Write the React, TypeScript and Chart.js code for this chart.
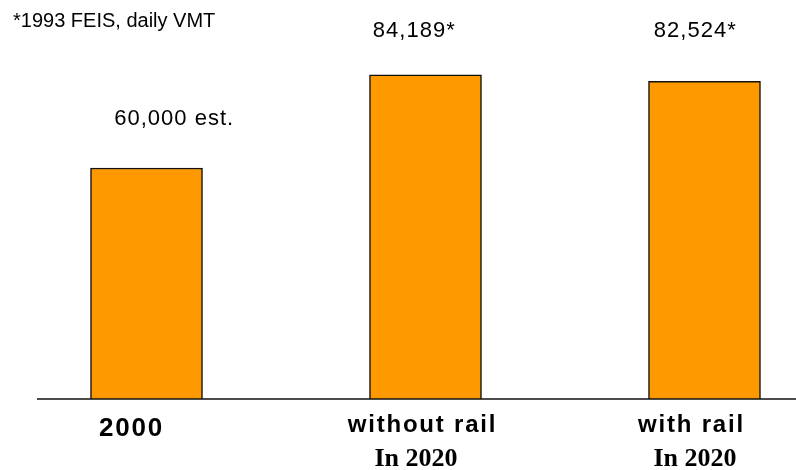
import React, { useEffect, useRef } from "react";
import { Chart, registerables } from "chart.js";

Chart.register(...registerables);

const categories = ["2000", "without rail", "with rail"];
const subLabels = ["", "In 2020", "In 2020"];
const values = [60000, 84189, 82524];
const valueLabels = ["60,000 est.", "84,189*", "82,524*"];
const note = "*1993 FEIS, daily VMT";

// label offsets relative to bar centres / tops (px)
const valueLabelDx = [27.7, -11.2, -9.2];
const valueLabelDy = [43, 38.3, 44];
const catLabelDx = [-15, -3, -13];
const catLabelBaseline = [436, 432, 432];
const subLabelDx = [0, -9.5, -9.5];

const SANS = '"Liberation Sans", Arial, sans-serif';
const SERIF = '"Liberation Serif", "Times New Roman", serif';

export default function App() {
  const ref = useRef<HTMLCanvasElement | null>(null);
  useEffect(() => {
    if (!ref.current) return;
    const textPlugin = {
      id: "texts",
      afterDatasetsDraw(chart: any) {
        const ctx = chart.ctx;
        const xs = chart.scales.x;
        const ys = chart.scales.y;
        const area = chart.chartArea;
        ctx.save();
        // baseline
        const y0 = ys.getPixelForValue(0);
        ctx.strokeStyle = "#111";
        ctx.lineWidth = 1.5;
        ctx.beginPath();
        ctx.moveTo(area.left, y0);
        ctx.lineTo(area.right, y0);
        ctx.stroke();

        ctx.fillStyle = "#000";
        ctx.textBaseline = "alphabetic";
        // note
        ctx.textAlign = "left";
        ctx.font = `20px ${SANS}`;
        ctx.fillText(note, 13, 27);

        values.forEach((v, i) => {
          const cx = xs.getPixelForValue(i);
          const top = ys.getPixelForValue(v);
          ctx.textAlign = "center";
          ctx.font = `22px ${SANS}`;
          (ctx as any).letterSpacing = "1px";
          ctx.fillText(valueLabels[i], cx + valueLabelDx[i], top - valueLabelDy[i]);
          (ctx as any).letterSpacing = "1.8px";
          ctx.font = `bold 24px ${SANS}`;
          if (i === 0) ctx.font = `bold 26px ${SANS}`;
          ctx.fillText(categories[i], cx + catLabelDx[i], catLabelBaseline[i]);
          (ctx as any).letterSpacing = "0px";
          if (subLabels[i]) {
            ctx.font = `bold 26px ${SERIF}`;
            ctx.fillText(subLabels[i], cx + subLabelDx[i], 466);
          }
        });
        ctx.restore();
      },
    };
    const chart = new Chart(ref.current, {
      type: "bar",
      data: {
        datasets: [
          {
            data: values.map((v, i) => ({ x: i, y: v })),
            backgroundColor: "#FF9900",
            borderColor: "#111",
            borderWidth: 1.5,
            barThickness: 112,
          },
        ],
      },
      options: {
        animation: false,
        responsive: false,
        maintainAspectRatio: false,
        layout: { padding: { top: 14, bottom: 71, left: 37, right: 0 } },
        plugins: { legend: { display: false }, tooltip: { enabled: false } },
        scales: {
          x: { type: "linear", min: -0.3925, max: 2.328, offset: false, display: false },
          y: { min: 0, max: 100000, display: false },
        },
      },
      plugins: [textPlugin],
    } as any);
    return () => chart.destroy();
  }, []);
  return (
    <div style={{ position: "absolute", left: 0, top: 0, width: 796, height: 470, background: "#fff" }}>
      <canvas ref={ref} width={796} height={470} style={{ width: 796, height: 470 }} />
    </div>
  );
}
